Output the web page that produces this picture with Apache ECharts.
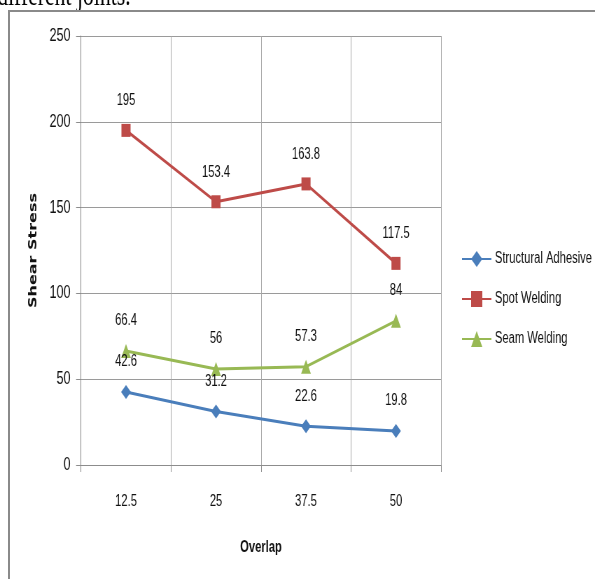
<!DOCTYPE html>
<html>
<head>
<meta charset="utf-8">
<style>
  html, body { margin: 0; padding: 0; background: #fff; overflow: hidden; }
  /* The chart is laid out wide and then compressed horizontally, giving the
     narrow, condensed look of the lettering and markers. */
  #chart { position: absolute; left: 0; top: 0; width: 850px; height: 579px; transform: scaleX(0.7); transform-origin: 0 0; }
  /* Page frame around the figure */
  #frame { position: absolute; left: 8px; top: 10px; width: 600px; height: 600px;
           border-top: 2px solid #8a8a8a; border-left: 2px solid #8a8a8a; pointer-events: none; }
</style>
<script src="https://cdn.jsdelivr.net/npm/echarts@6/dist/echarts.min.js"></script>
</head>
<body>
<div id="chart"></div>
<div id="frame"></div>
<script>
// Overlap lengths (x axis categories)
const overlaps = ['12.5', '25', '37.5', '50'];
// Shear stress per joining method
const structuralAdhesive = [42.6, 31.2, 22.6, 19.8];
const spotWelding = [195, 153.4, 163.8, 117.5];
const seamWelding = [66.4, 56, 57.3, 84];
const seriesNames = ['Structural Adhesive', 'Spot Welding', 'Seam Welding'];

const sans = '"Liberation Sans", Arial, sans-serif';
const ink = '#111';

function lineSeries(name, data, color, symbol, size) {
  return {
    name: name,
    type: 'line',
    data: data,
    symbol: symbol,
    symbolSize: size,
    lineStyle: { color: color, width: 3 },
    itemStyle: { color: color },
    label: {
      show: true,
      position: 'top',
      distance: 15,
      color: ink,
      fontFamily: sans,
      fontSize: 16
    },
    z: 3
  };
}

const chart = echarts.init(document.getElementById('chart'), null, { renderer: 'canvas' });
chart.setOption({
  animation: false,
  backgroundColor: '#fff',
  grid: { left: 115.7, top: 36, width: 514.3, height: 429, containLabel: false },
  legend: {
    orient: 'vertical',
    left: 654,
    top: 246,
    itemGap: 24,
    itemWidth: 42,
    itemHeight: 20,
    itemTextGap: 0,
    textStyle: { fontFamily: sans, fontSize: 16, color: ink },
    data: seriesNames
  },
  xAxis: {
    type: 'category',
    data: overlaps,
    boundaryGap: true,
    name: 'Overlap',
    nameLocation: 'middle',
    nameGap: 75,
    nameTextStyle: { fontFamily: sans, fontSize: 16, fontWeight: 'bold', color: ink },
    axisLine: { lineStyle: { color: '#8c8c8c', width: 1 } },
    axisTick: { show: true, length: 7, lineStyle: { color: '#8c8c8c' } },
    axisLabel: { fontFamily: sans, fontSize: 16, color: ink, margin: 29 },
    splitLine: { show: true, lineStyle: { color: '#a6a6a6', width: 1 } }
  },
  yAxis: {
    type: 'value',
    min: 0,
    max: 250,
    interval: 50,
    name: 'Shear Stress',
    nameLocation: 'middle',
    nameGap: 60,
    nameTextStyle: { fontFamily: '"DejaVu Sans", sans-serif', fontSize: 16, fontWeight: 'bold', color: ink },
    axisLine: { show: true, lineStyle: { color: '#8c8c8c', width: 1 } },
    axisTick: { show: true, length: 7, lineStyle: { color: '#8c8c8c' } },
    axisLabel: { fontFamily: sans, fontSize: 18, color: ink, margin: 15 },
    splitLine: { show: true, lineStyle: { color: '#9a9a9a', width: 1 } }
  },
  series: [
    lineSeries(seriesNames[0], structuralAdhesive, '#4a7ebb', 'diamond', 14),
    lineSeries(seriesNames[1], spotWelding, '#be4b48', 'rect', 13),
    lineSeries(seriesNames[2], seamWelding, '#98b954', 'triangle', 14)
  ],
  graphic: [
    {
      type: 'text',
      x: -4,
      y: 12,
      style: {
        text: 'different joints.',
        font: '31px "Liberation Serif", "DejaVu Serif", serif',
        fill: '#000',
        verticalAlign: 'bottom'
      },
      z: 10
    }
  ]
});
</script>
</body>
</html>
